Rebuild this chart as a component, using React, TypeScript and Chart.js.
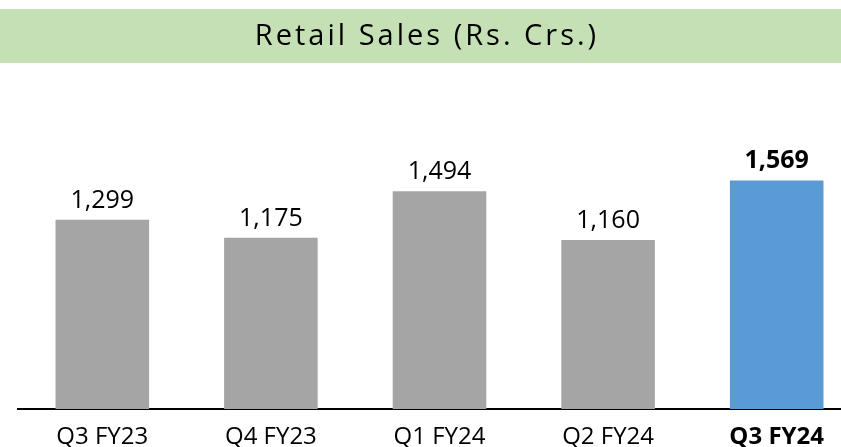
import React, { useEffect, useRef } from "react";
import { Chart, registerables } from "chart.js";

Chart.register(...registerables);

const TITLE = "Retail Sales (Rs. Crs.)";
const categories = ["Q3 FY23", "Q4 FY23", "Q1 FY24", "Q2 FY24", "Q3 FY24"];
const retailSales = [1299, 1175, 1494, 1160, 1569];
const highlightIndex = 4;

const FONT = "'Open Sans', 'DejaVu Sans', sans-serif";
const GREY = "#A5A5A5";
const BLUE = "#5B9BD5";
const BAND = "#C5E0B4";

const fmt = (v: number) => v.toLocaleString("en-US");

export default function App() {
  const ref = useRef<HTMLCanvasElement>(null);

  useEffect(() => {
    const canvas = ref.current!;
    const bandPlugin = {
      id: "band",
      beforeDraw(chart: any) {
        const ctx = chart.ctx;
        ctx.save();
        ctx.fillStyle = "#fff";
        ctx.fillRect(0, 0, chart.width, chart.height);
        ctx.fillStyle = BAND;
        ctx.fillRect(0, 9, 841, 54);
        ctx.fillStyle = "#000";
        ctx.font = `29px ${FONT}`;
        (ctx as any).letterSpacing = "3px";
        ctx.textAlign = "center";
        ctx.textBaseline = "middle";
        ctx.fillText(TITLE, 427, 37);
        ctx.restore();
      },
    };
    const valuePlugin = {
      id: "values",
      afterDatasetsDraw(chart: any) {
        const ctx = chart.ctx;
        const meta = chart.getDatasetMeta(0);
        ctx.save();
        ctx.fillStyle = "#000";
        ctx.textAlign = "center";
        ctx.textBaseline = "alphabetic";
        meta.data.forEach((bar: any, i: number) => {
          ctx.font = `${i === highlightIndex ? "bold " : ""}25px ${FONT}`;
          ctx.fillText(fmt(retailSales[i]), bar.x, bar.y - 12);
        });
        ctx.restore();
      },
    };

    const chart = new Chart(canvas, {
      type: "bar",
      data: {
        labels: categories,
        datasets: [
          {
            data: retailSales,
            backgroundColor: retailSales.map((_, i) => (i === highlightIndex ? BLUE : GREY)),
            borderWidth: 0,
            categoryPercentage: 1,
            barPercentage: 0.555,
          },
        ],
      },
      options: {
        animation: false,
        responsive: false,
        devicePixelRatio: 1,
        layout: { padding: { top: 117.6, left: 18, right: 19, bottom: 0 } },
        plugins: {
          legend: { display: false },
          title: { display: false },
          tooltip: { enabled: false },
        },
        scales: {
          x: {
            grid: { display: false, drawTicks: false },
            border: { display: true, color: "#000", width: 2 },
            ticks: {
              padding: 16,
              color: "#000",
              font: (c: any) => ({
                family: FONT,
                size: 24,
                weight: c.index === highlightIndex ? "bold" : "normal",
                lineHeight: 1,
              }),
            },
            afterFit: (s: any) => {
              s.height = 38;
            },
          },
          y: {
            display: false,
            min: 0,
            max: 2000,
          },
        },
      },
      plugins: [bandPlugin, valuePlugin],
    });
    return () => chart.destroy();
  }, []);

  return (
    <div
      style={{
        position: "fixed",
        left: 0,
        top: 0,
        width: 841,
        height: 447,
        overflow: "hidden",
        background: "#fff",
      }}
    >
      <div style={{ width: 880, height: 447, position: "relative" }}>
        <canvas ref={ref} width={880} height={447} style={{ display: "block" }} />
      </div>
    </div>
  );
}
